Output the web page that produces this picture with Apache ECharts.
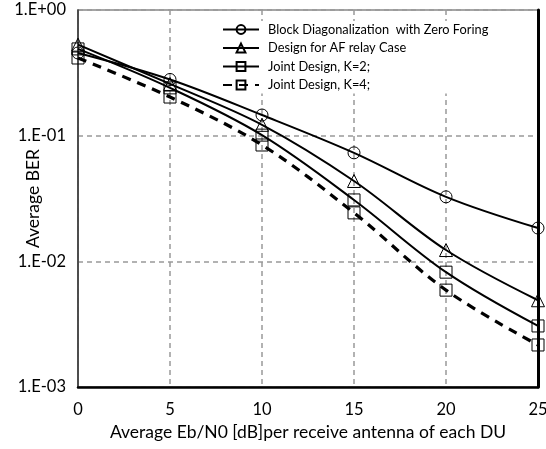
<!DOCTYPE html>
<html><head><meta charset="utf-8">
<script src="https://cdn.jsdelivr.net/npm/echarts@6/dist/echarts.min.js"></script>
<style>html,body{margin:0;padding:0;background:#fff}#c{width:546px;height:449px}</style>
</head><body><div id="c"></div>
<script>
const snr = [0, 5, 10, 15, 20, 25];
const names = ['Block Diagonalization  with Zero Foring', 'Design for AF relay Case', 'Joint Design, K=2;', 'Joint Design, K=4;'];
const bdzf = [0.455, 0.28, 0.146, 0.073, 0.0326, 0.0184];
const afRelay = [0.53, 0.258, 0.122, 0.0436, 0.0123, 0.0049];
const jointK2 = [0.49, 0.24, 0.101, 0.0308, 0.0082, 0.00306];
const jointK4 = [0.415, 0.203, 0.0843, 0.0243, 0.0059, 0.00216];
const yTicks = ['1.E-03', '1.E-02', '1.E-01', '1.E+00'];

const font = 'Lato, "Open Sans", sans-serif';
function mk(name, vals, symbol, size, dashed) {
  return {
    name: name, type: 'line', smooth: 0.35,
    data: snr.map((x, i) => [x, vals[i]]),
    symbol: symbol, symbolSize: size, showSymbol: true,
    itemStyle: { color: 'rgba(255,255,255,0)', borderColor: '#000', borderWidth: 1 },
    lineStyle: { color: '#000', width: dashed ? 3.2 : 2, type: dashed ? [9, 7] : 'solid' },
    emphasis: { disabled: true },
    clip: false, z: 3
  };
}
const chart = echarts.init(document.getElementById('c'));
chart.setOption({
  animation: false,
  backgroundColor: '#fff',
  textStyle: { fontFamily: font },
  grid: { left: 78, right: 8, top: 10, bottom: 62, outerBoundsMode: 'none', containLabel: false,
    show: true, borderColor: '#888', borderWidth: 1.5, backgroundColor: 'transparent' },
  legend: {
    orient: 'vertical', left: 218, top: 21, itemWidth: 36, itemHeight: 11, itemGap: 5.5,
    backgroundColor: '#fff', padding: [2, 6, 2, 4],
    textStyle: { fontFamily: font, fontSize: 12.8, color: '#000', padding: [0, 0, 0, 4] },
    data: names
  },
  xAxis: {
    type: 'value', min: 0, max: 25, interval: 5,
    name: 'Average Eb/N0 [dB]per receive antenna of each DU', nameLocation: 'middle', nameGap: 36,
    nameMoveOverlap: false,
    nameTextStyle: { fontFamily: font, fontSize: 17.5, color: '#000' },
    axisLine: { show: true, onZero: false, lineStyle: { color: '#000', width: 2.5 } },
    axisTick: { show: false },
    axisLabel: { fontFamily: font, fontSize: 16.5, color: '#000', margin: 14 },
    splitLine: { show: true, lineStyle: { color: '#999', type: [5, 4], width: 1.5 } }
  },
  yAxis: [{
    type: 'log', logBase: 10, min: 0.001, max: 1,
    name: 'Average BER', nameLocation: 'middle', nameGap: 36,
    nameMoveOverlap: false,
    nameTextStyle: { fontFamily: font, fontSize: 17.5, color: '#000' },
    axisLine: { show: true, lineStyle: { color: '#333', width: 1.5 } },
    axisTick: { show: false },
    minorTick: { show: false },
    axisLabel: { fontFamily: font, fontSize: 16.5, color: '#000', margin: 12,
      formatter: function (v) { const e = Math.round(Math.log10(v)); return yTicks[e + 3]; } },
    splitLine: { show: true, lineStyle: { color: '#999', type: [5, 4], width: 1.5 } }
  }, {
    type: 'log', logBase: 10, min: 0.001, max: 1, position: 'right',
    axisLine: { show: true, lineStyle: { color: '#000', width: 3 } },
    axisTick: { show: false }, axisLabel: { show: false }, splitLine: { show: false }
  }],
  series: [
    mk(names[0], bdzf, 'circle', 12, false),
    mk(names[1], afRelay, 'triangle', 13, false),
    mk(names[2], jointK2, 'rect', 12, false),
    mk(names[3], jointK4, 'rect', 12, true)
  ]
});
</script></body></html>
